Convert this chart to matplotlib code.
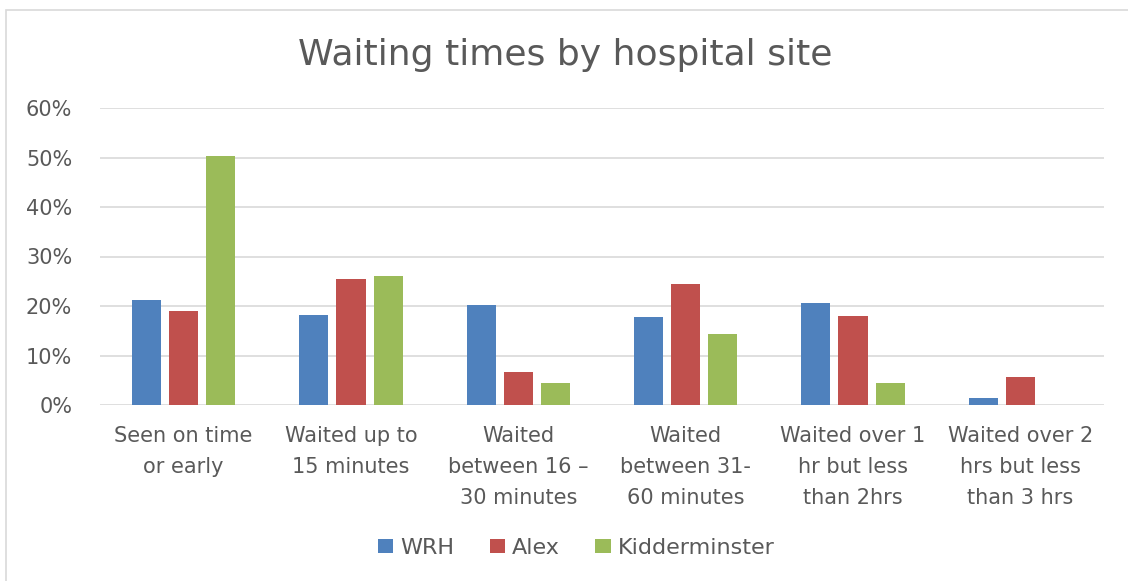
import numpy as np
import matplotlib.pyplot as plt
from matplotlib.patches import Rectangle
from matplotlib.ticker import PercentFormatter

categories = ["Seen on time\nor early", "Waited up to\n15 minutes", "Waited\nbetween 16 \u2013\n30 minutes",
              "Waited\nbetween 31-\n60 minutes", "Waited over 1\nhr but less\nthan 2hrs",
              "Waited over 2\nhrs but less\nthan 3 hrs"]
wrh = [21.2, 18.2, 20.3, 17.7, 20.6, 1.4]
alex = [19.0, 25.4, 6.6, 24.5, 18.0, 5.6]
kidderminster = [50.4, 26.0, 4.4, 14.4, 4.4, 0.0]

series = ["WRH", "Alex", "Kidderminster"]
colors = ["#4F81BD", "#C0504D", "#9BBB59"]
textcol = "#595959"

plt.rcParams['font.family'] = ['DejaVu Sans']

fig = plt.figure(figsize=(11.28, 5.81), dpi=100)
ax = fig.add_axes([100 / 1128, (581 - 405) / 581, (1104 - 100) / 1128, (405 - 108) / 581])

# chart border (only top/left visible in the crop)
fig.patches.append(Rectangle((6 / 1128, -0.1), 1.2, (581 - 10) / 581 + 0.1, transform=fig.transFigure,
                             fill=False, edgecolor="#D9D9D9", linewidth=1.2))

x = np.arange(len(categories))
w = 0.175
step = 0.222
for k, vals in enumerate([wrh, alex, kidderminster]):
    ax.bar(x + (k - 1) * step, np.array(vals) / 100, width=w, color=colors[k], label=series[k], zorder=3)

ax.set_xlim(-0.5, len(categories) - 0.5)
ax.set_ylim(0, 0.6)
ax.set_yticks(np.arange(0, 0.61, 0.1))
ax.yaxis.set_major_formatter(PercentFormatter(1.0, decimals=0))
ax.grid(axis="y", color="#D9D9D9", linewidth=1.2, zorder=0)
for s in ax.spines.values():
    s.set_visible(False)
ax.tick_params(axis="y", length=0, pad=20, labelsize=15, labelcolor=textcol)
ax.set_xticks(x)
ax.set_xticklabels(categories, fontsize=15, color=textcol, linespacing=1.68)
ax.tick_params(axis="x", length=0, pad=15)

fig.text(565 / 1128, (581 - 55) / 581, "Waiting times by hospital site", ha="center", va="center",
         fontsize=26, color=textcol)

leg = fig.legend(loc="center", bbox_to_anchor=(576 / 1128, (581 - 548) / 581), ncol=3, frameon=False,
                 fontsize=16, handlelength=0.7, handleheight=0.6, handletextpad=0.3, columnspacing=1.6)
for t in leg.get_texts():
    t.set_color(textcol)

fig.savefig("out.png", dpi=100, facecolor="white")
